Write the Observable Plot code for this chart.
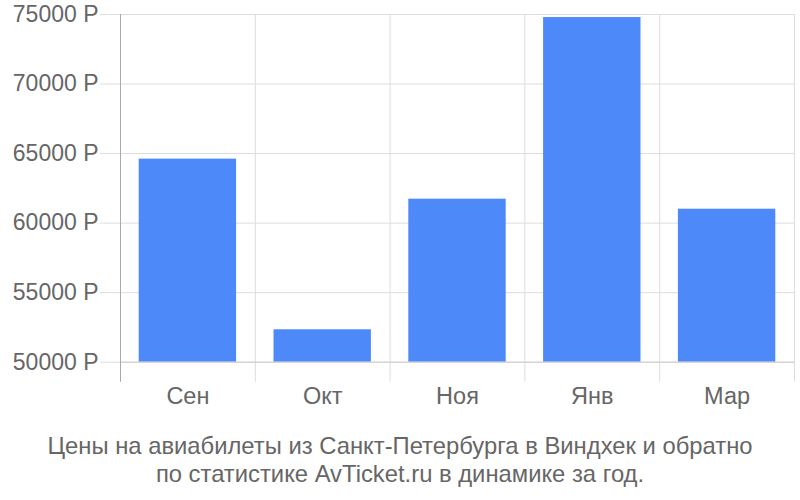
<!DOCTYPE html>
<html>
<head>
<meta charset="utf-8">
<script src="https://cdn.jsdelivr.net/npm/d3@7"></script>
<script src="https://cdn.jsdelivr.net/npm/@observablehq/plot@0.6"></script>
<style>
  body { margin: 0; background: #fff; font-family: "Liberation Sans", Arial, sans-serif; }
  #chart svg { display: block; }
  .caption { margin-top: 12px; text-align: center; color: #666; font-size: 23.8px; line-height: 28px; }
</style>
</head>
<body>
<div id="chart"></div>
<div class="caption">Цены на авиабилеты из Санкт-Петербурга в Виндхек и обратно<br>по статистике AvTicket.ru в динамике за год.</div>
<script>
const months = ["Сен", "Окт", "Ноя", "Янв", "Мар"];
const prices = [64600, 52330, 61720, 74780, 61000];
const yTicks = [50000, 55000, 60000, 65000, 70000, 75000];
const baseline = 50000;
const yMin = 48560;

const data = months.map((m, i) => ({month: m, price: prices[i]}));

const W = 800, ML = 120, MR = 6;
const bw = (W - ML - MR) / months.length;

const chart = Plot.plot({
  width: W,
  height: 420,
  marginLeft: ML,
  marginRight: MR,
  marginTop: 14,
  marginBottom: 38.3,
  style: {fontFamily: "Liberation Sans, Arial, sans-serif", fontSize: "23px", color: "#666", background: "#fff"},
  x: {domain: months, padding: 0, round: false, label: null},
  y: {domain: [yMin, 75000], label: null},
  marks: [
    Plot.ruleX(months, {x: d => d, dx: bw / 2, stroke: "#ddd", strokeOpacity: 1}),
    Plot.ruleY(yTicks, {stroke: "#ddd", strokeOpacity: 1}),
    Plot.barY(data, {x: "month", y1: baseline, y2: "price", fill: "#4d89f9", insetLeft: 18.7, insetRight: 18.7}),
    Plot.ruleY([baseline], {stroke: "#ccc"}),
    Plot.ruleX([months[0]], {x: d => d, dx: -bw / 2, stroke: "#aaa"}),
    Plot.axisY({ticks: yTicks, tickFormat: d => d + " Р", tickSize: 20, tickPadding: 2, stroke: "#ddd", fill: "#666", fontSize: 23, label: null}),
    Plot.axisX({tickSize: 0, tickPadding: 5, fill: "#666", fontSize: 23.5, label: null})
  ]
});
document.getElementById("chart").appendChild(chart);
</script>
</body>
</html>
